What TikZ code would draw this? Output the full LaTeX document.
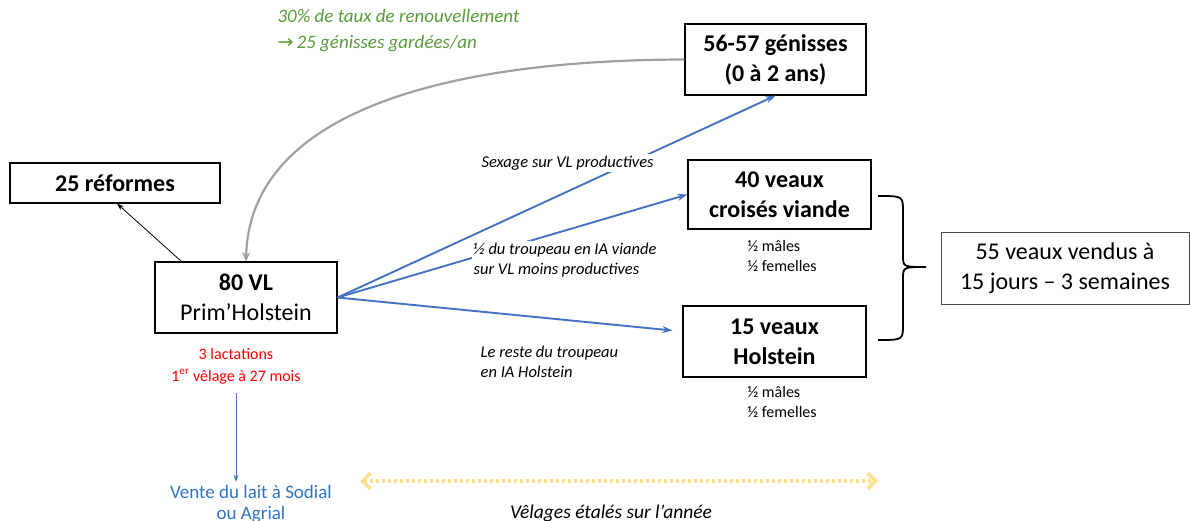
\documentclass[tikz,border=0pt]{standalone}
\usepackage{fontspec}
\setmainfont{Carlito}
\newfontfamily\symbfont{DejaVu Sans}
\usetikzlibrary{arrows.meta}
\definecolor{bleuflux}{HTML}{4472C4}
\definecolor{bleulait}{HTML}{2E75C6}
\definecolor{vertnote}{HTML}{5B9B3A}
\definecolor{grisarc}{HTML}{A0A0A0}
\definecolor{jaunevel}{HTML}{FFE08A}

\begin{document}
\begin{tikzpicture}[x=1pt,y=-1pt,
    effectif/.style ={draw, line width=1.2pt, inner sep=0pt, align=center,
      font=\fontsize{24}{30}\selectfont\bfseries},
    remarque/.style ={align=left, inner sep=1.5pt, fill=white,
      font=\fontsize{16.5}{20}\selectfont\itshape},
    sexes/.style ={align=left, font=\fontsize{16}{20}\selectfont},
    flux/.style ={bleuflux, line width=1.9pt, -{Stealth[length=10pt,width=7pt]}}]
   \useasboundingbox (0,0) rectangle (1190,521);
   \node[effectif, minimum width=210pt, minimum height=40pt] (REF) at (115,183) {25 réformes};
   \node[effectif, minimum width=182pt, minimum height=71pt] (VL) at (246,297.5)
      {80 VL\\\mdseries Prim’Holstein};
   \node[effectif, minimum width=181pt, minimum height=71pt] (GEN) at (775.5,59.5)
      {56-57 génisses\\(0 à 2 ans)};
   \node[effectif, minimum width=183pt, minimum height=69pt] (CROI) at (779.5,194.5)
      {40 veaux\\croisés viande};
   \node[effectif, minimum width=183pt, minimum height=71pt] (HOL) at (774.5,341.5)
      {15 veaux\\Holstein};
   \node[effectif, draw=black!70, line width=1pt, minimum width=248pt, minimum height=71pt,
      font=\fontsize{24}{30}\selectfont] (VEN) at (1065,268.5)
      {55 veaux vendus à\\15 jours – 3 semaines};
   \draw[grisarc, line width=2.2pt, -{Stealth[length=9pt,width=8pt]}]
      (GEN.west) .. controls (450,60) and (250,110) .. (VL.north);
   \draw[line width=0.8pt, -{Stealth[length=7pt,width=5pt]}] ([xshift=27pt]VL.north west) to ([xshift=2pt]REF.south);
   \draw[flux] (VL.east) to (GEN.south);
   \draw[flux] (VL.east) to (CROI.west);
   \draw[flux] (VL.east) to ([xshift=-10pt,yshift=11pt]HOL.west);
   \node[remarque, anchor=west] (SEX) at (480,163) {Sexage sur VL productives};
   \node[remarque, anchor=west] (IAV) at (472,260) {½ du troupeau en IA viande\\sur VL moins productives};
   \node[remarque, anchor=west] (IAH) at (479,362) {Le reste du troupeau\\en IA Holstein};
   \node[sexes, anchor=west] (SXC) at (744,256) {½ mâles\\½ femelles};
   \node[sexes, anchor=west] (SXH) at (744,402) {½ mâles\\½ femelles};
   \node[font=\fontsize{19}{26}\selectfont\itshape, text=vertnote, align=left, anchor=west] (TAUX)
      at (274,31) {30\% de taux de renouvellement\\{\symbfont →}\,25 génisses gardées/an};
   \node[font=\fontsize{16}{22}\selectfont, text=red, align=center] (LACT) at (236,366)
      {3 lactations\\1\textsuperscript{er} vêlage à 27 mois};
   \node[font=\fontsize{19}{21}\selectfont, text=bleulait, align=center] (LAIT) at (251,504)
      {Vente du lait à Sodial\\ou Agrial};
   \draw[bleuflux, line width=1pt, -{Stealth[length=7pt,width=5pt]}]
      ([yshift=-6pt]LACT.south) to (LACT.south |- LAIT.north);
   % brace des veaux vendus
   \coordinate (ACCH) at (878,196);
   \coordinate (ACCB) at (878,340);
   \coordinate (ACCP) at (926,267);
   \draw[line width=1.8pt] (ACCH) .. controls (903,196) .. (903,212) -- (903,255)
      .. controls (903,267) .. (ACCP) .. controls (903,267) .. (903,279) -- (903,324)
      .. controls (903,340) .. (ACCB);
   % velages
   \coordinate (VELG) at (360,481);
   \coordinate (VELD) at (878,481);
   \draw[jaunevel, line width=3.5pt, dash pattern=on 3pt off 3pt,
      {Straight Barb[length=8pt,width=16pt]}-{Straight Barb[length=8pt,width=16pt]}] (VELG) to (VELD);
   \node[font=\fontsize{19.5}{22}\selectfont\itshape] (VEL) at (611,513) {Vêlages étalés sur l’année};
 \end{tikzpicture}
\end{document}
